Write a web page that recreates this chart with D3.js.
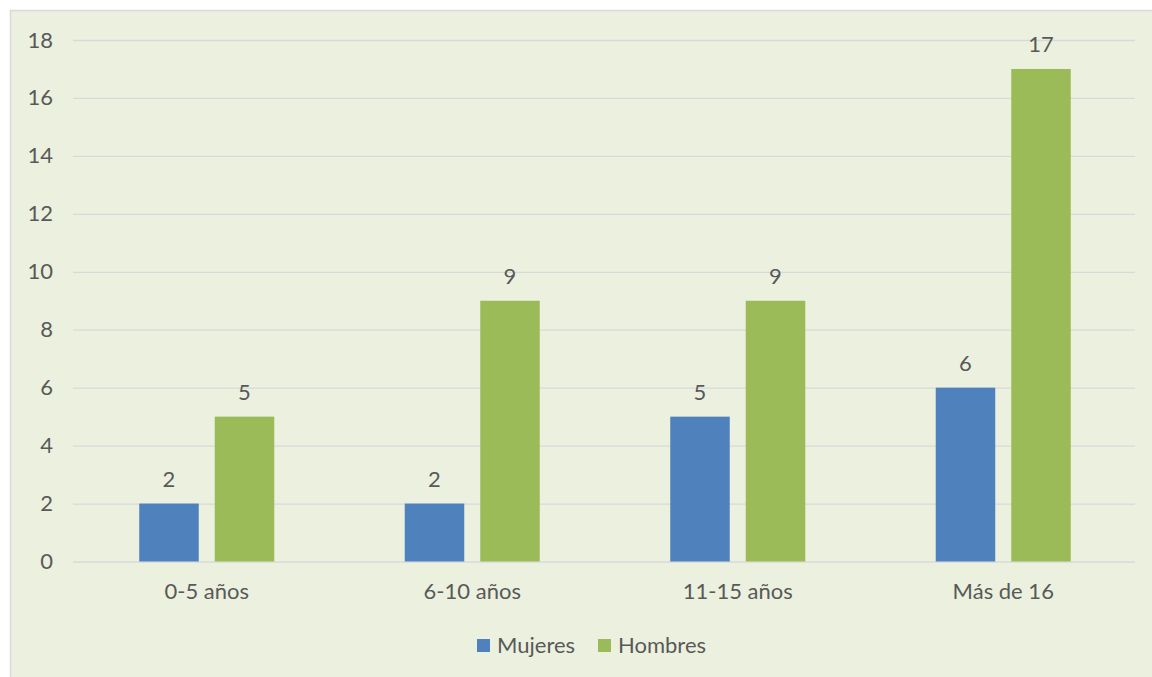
<!DOCTYPE html>
<html>
<head>
<meta charset="utf-8">
<script src="https://cdn.jsdelivr.net/npm/d3@7"></script>
<style>
  html, body { margin: 0; padding: 0; background: #ffffff; }
  svg { display: block; }
  text { font-family: Lato, "Liberation Sans", sans-serif; fill: #595959; }
</style>
</head>
<body>
<svg id="chart" width="1152" height="677"></svg>
<script>
const categories = ["0-5 años", "6-10 años", "11-15 años", "Más de 16"];
const seriesNames = ["Mujeres", "Hombres"];
const mujeres = [2, 2, 5, 6];
const hombres = [5, 9, 9, 17];
const yTicks = [0, 2, 4, 6, 8, 10, 12, 14, 16, 18];
const colors = ["#4F81BD", "#9BBB59"];

const seriesValues = [mujeres, hombres];

const svg = d3.select("#chart");
const W = 1152, H = 677;
const FS = 22;

svg.append("rect")
  .attr("x", 10.5).attr("y", 10.5)
  .attr("width", W + 10).attr("height", H + 10)
  .attr("fill", "#EBF1DE")
  .attr("stroke", "#D9D9D9").attr("stroke-width", 1.5);

const plot = { left: 73, right: 1135, top: 40, bottom: 561.5 };

const x0 = d3.scaleBand().domain(categories).range([plot.left + 1, plot.right + 1]).padding(0);
const x1 = d3.scaleBand().domain(seriesNames).range([0, x0.bandwidth()])
  .paddingInner(0.212).paddingOuter(0.864);
const y = d3.scaleLinear().domain([0, 18]).range([plot.bottom, plot.top]);

// gridlines
const yAxis = d3.axisLeft(y).tickValues(yTicks).tickSize(-(plot.right - plot.left)).tickPadding(20);
const gy = svg.append("g").attr("transform", `translate(${plot.left},0)`).call(yAxis);
gy.select(".domain").remove();
gy.selectAll(".tick line").attr("stroke", "#D9D9D9").attr("stroke-width", 1.3);
gy.selectAll(".tick text").attr("font-size", FS).attr("fill", "#595959")
  .attr("font-family", "Lato, 'Liberation Sans', sans-serif");

// bars
const groups = svg.append("g").selectAll("g")
  .data(categories)
  .join("g")
  .attr("transform", d => `translate(${x0(d)},0)`);

groups.selectAll("rect")
  .data((c, i) => seriesNames.map((s, j) => ({ s, v: seriesValues[j][i], j })))
  .join("rect")
  .attr("x", d => x1(d.s))
  .attr("y", d => y(d.v))
  .attr("width", x1.bandwidth())
  .attr("height", d => y(0) - y(d.v))
  .attr("fill", d => colors[d.j]);

groups.selectAll("text.val")
  .data((c, i) => seriesNames.map((s, j) => ({ s, v: seriesValues[j][i], j })))
  .join("text")
  .attr("class", "val")
  .attr("x", d => x1(d.s) + x1.bandwidth() / 2)
  .attr("y", d => y(d.v) - 17)
  .attr("text-anchor", "middle")
  .attr("font-size", FS)
  .text(d => d.v);

// x axis labels
const xAxis = d3.axisBottom(x0).tickSize(0).tickPadding(22);
const gx = svg.append("g").attr("transform", `translate(0,${plot.bottom})`).call(xAxis);
gx.select(".domain").remove();
gx.selectAll(".tick text").attr("font-size", FS).attr("fill", "#595959")
  .attr("font-family", "Lato, 'Liberation Sans', sans-serif");

// legend
const legend = svg.append("g");
const legendItems = [
  { name: seriesNames[0], color: colors[0], x: 477 },
  { name: seriesNames[1], color: colors[1], x: 598 }
];
legendItems.forEach(it => {
  legend.append("rect").attr("x", it.x).attr("y", 639).attr("width", 13).attr("height", 13).attr("fill", it.color);
  legend.append("text").attr("x", it.x + 20).attr("y", 653).attr("font-size", FS).text(it.name);
});
</script>
</body>
</html>
